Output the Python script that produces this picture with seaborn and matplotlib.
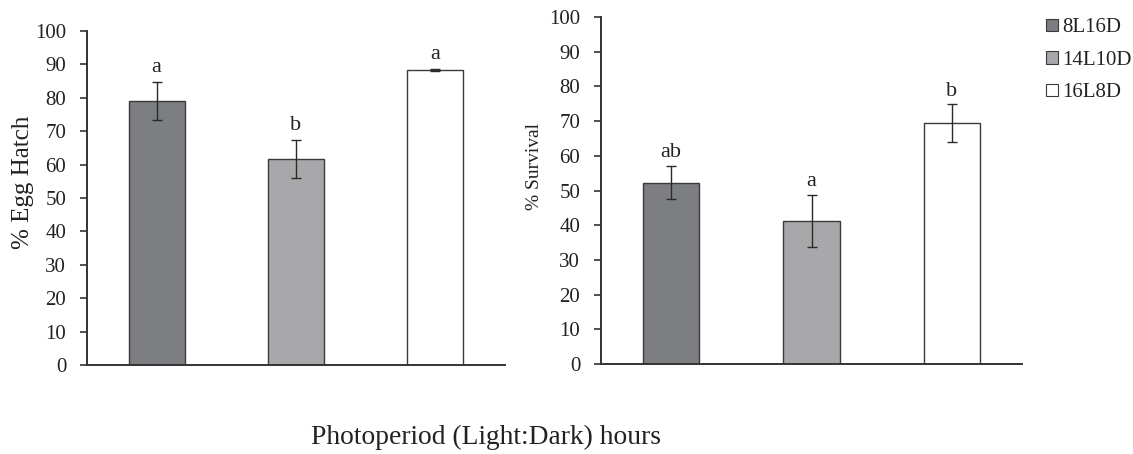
import matplotlib
matplotlib.use("Agg")
import matplotlib.pyplot as plt
import seaborn as sns
import pandas as pd

categories = ["8L16D", "14L10D", "16L8D"]
hatch_mean = [79.0, 61.7, 88.3]
hatch_err = [5.7, 5.8, 0.3]
hatch_letters = ["a", "b", "a"]
surv_mean = [52.3, 41.2, 69.4]
surv_err = [4.8, 7.6, 5.5]
surv_letters = ["ab", "a", "b"]
yticks = list(range(0, 101, 10))

colors = ["#7c7d82", "#a7a8ac", "#ffffff"]
palette = dict(zip(categories, colors))

sns.set_theme(style="white")
plt.rcParams["font.family"] = ["Liberation Serif", "DejaVu Serif"]

fig = plt.figure(figsize=(11.33, 4.54), dpi=100)
ax1 = fig.add_axes([87/1133, 1-365/454, (505-87)/1133, (365-31)/454])
ax2 = fig.add_axes([601/1133, 1-364/454, (1022-601)/1133, (364-17)/454])

def panel(ax, means, errs, letters, ylabel, legend, offset, ylsize, ylpos):
    df = pd.DataFrame({"Photoperiod": categories, "value": means})
    sns.barplot(data=df, x="Photoperiod", y="value", hue="Photoperiod",
                palette=palette, order=categories, hue_order=categories,
                width=0.4, edgecolor="#3a3a3a", linewidth=1.0,
                errorbar=None, legend=legend, ax=ax, dodge=False)
    xs = list(range(len(categories)))
    ax.errorbar(xs, means, yerr=errs, fmt="none", ecolor="#2a2a2a",
                elinewidth=1.0, capsize=3.5, capthick=1.0, zorder=5)
    for x, m, e, t in zip(xs, means, errs, letters):
        ax.text(x, m + e + offset, t, ha="center", va="bottom", fontsize=16,
                color="#222222")
    ax.set_xlim(-0.5, 2.5)
    ax.set_ylim(0, 100)
    ax.set_yticks(yticks)
    ax.set_xticks([])
    ax.set_xlabel("")
    ax.set_ylabel(ylabel, fontsize=ylsize, color="#222222")
    ax.yaxis.set_label_coords(*ylpos)
    ax.tick_params(axis="y", direction="out", length=5, width=1.2,
                   color="#333333", labelsize=15, labelcolor="#222222",
                   pad=10, left=True)
    for s in ["top", "right"]:
        ax.spines[s].set_visible(False)
    for s in ["left", "bottom"]:
        ax.spines[s].set_color("#333333")
        ax.spines[s].set_linewidth(1.4)

panel(ax1, hatch_mean, hatch_err, hatch_letters, "% Egg Hatch", False, 1.5,
      18, (-0.127, 0.548))
panel(ax2, surv_mean, surv_err, surv_letters, "% Survival", True, 1.0,
      14, (-0.138, 0.57))

leg = ax2.get_legend()
if leg is not None:
    leg.remove()
handles = [plt.Rectangle((0, 0), 1, 1, facecolor=c, edgecolor="#3a3a3a",
                         linewidth=0.8) for c in colors]
fig.legend(handles, categories, loc="upper left",
           bbox_to_anchor=(1038/1133, 1 - 10/454), frameon=False,
           fontsize=15, handlelength=0.55, handleheight=0.55,
           handletextpad=0.2, labelspacing=0.65, borderaxespad=0,
           labelcolor="#222222")

fig.text(486/1133, 1 - 437/454, "Photoperiod (Light:Dark) hours",
         ha="center", va="center", fontsize=19.8, color="#222222")

fig.savefig("out.png", dpi=100)
